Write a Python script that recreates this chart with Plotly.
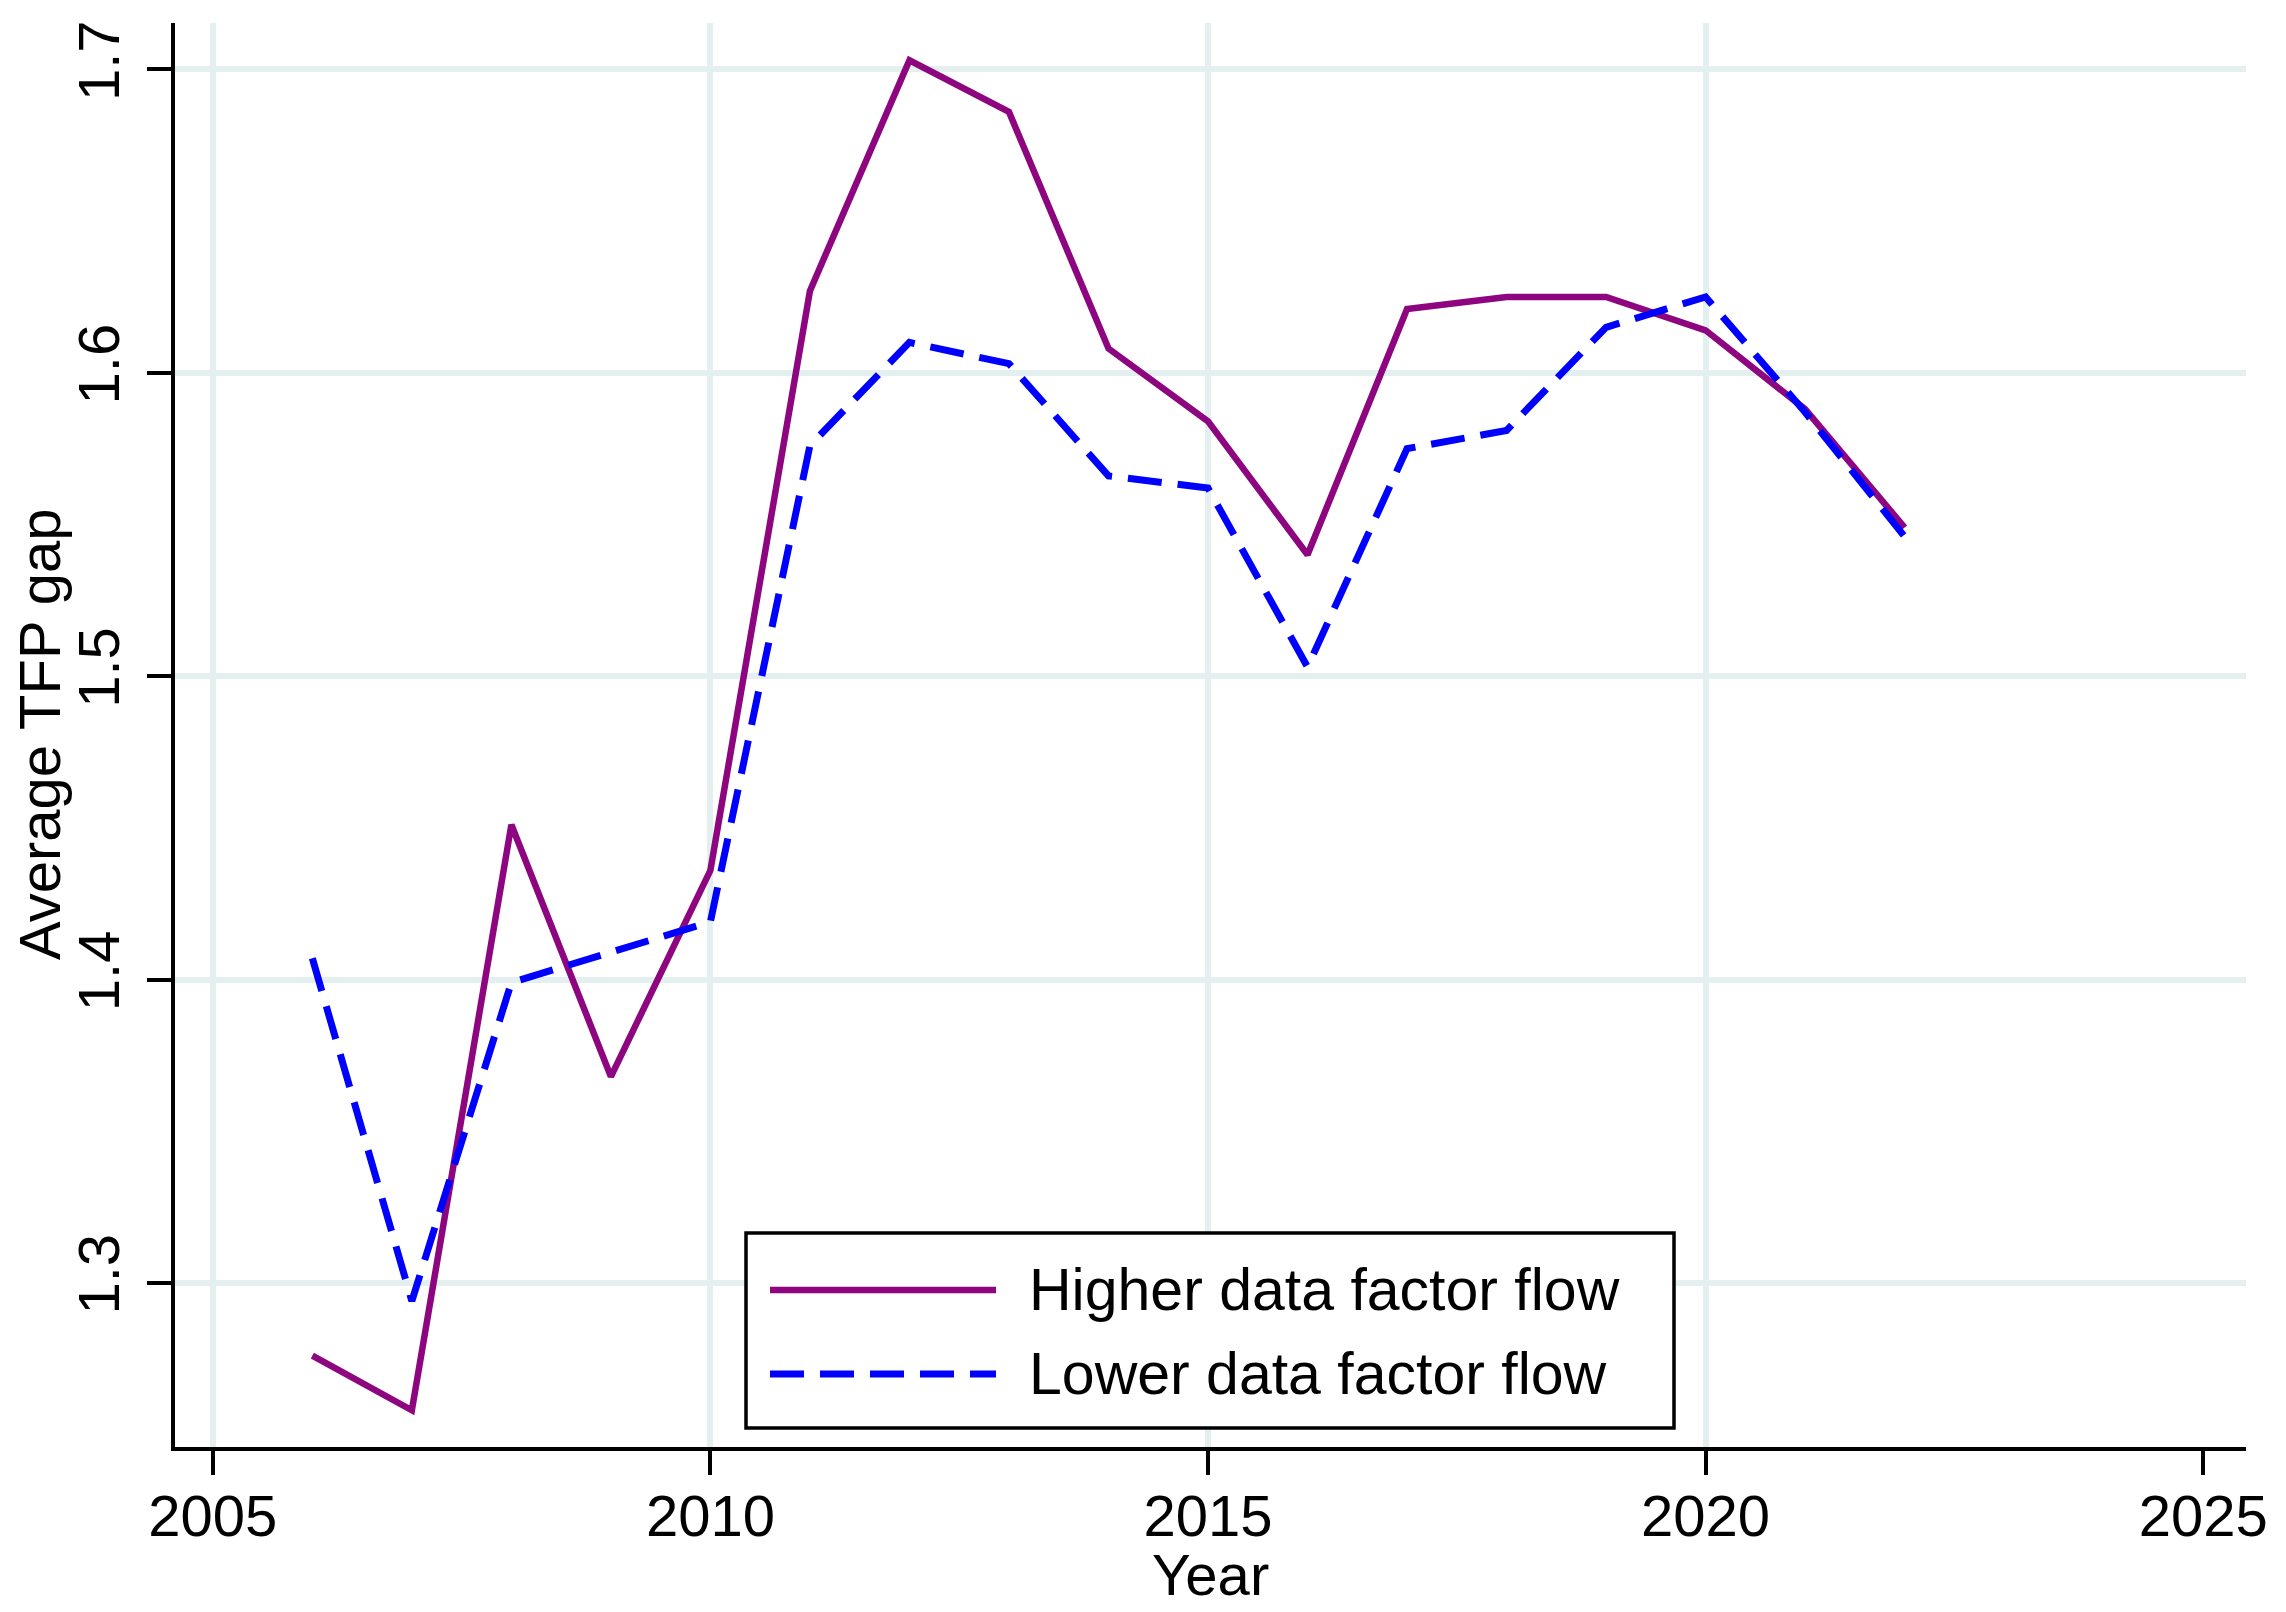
import plotly.graph_objects as go

# ---- data ----
years = list(range(2006, 2023))
higher = [1.276, 1.258, 1.451, 1.368, 1.436, 1.627, 1.703, 1.686, 1.608,
          1.584, 1.540, 1.621, 1.625, 1.625, 1.614, 1.588, 1.549]
lower = [1.407, 1.294, 1.399, 1.409, 1.419, 1.576, 1.610, 1.603, 1.566,
         1.562, 1.503, 1.575, 1.581, 1.615, 1.625, 1.587, 1.546]
series_names = ["Higher data factor flow", "Lower data factor flow"]
x_ticks = [2005, 2010, 2015, 2020, 2025]
x_grid = [2005, 2010, 2015, 2020]
y_ticks = [1.3, 1.4, 1.5, 1.6, 1.7]
y_labels = ["1.3", "1.4", "1.5", "1.6", "1.7"]
x_title = "Year"
y_title = "Average TFP gap"

# ---- layout geometry (absolute page pixels; body has an 8px margin) ----
PAGE_W, PAGE_H = 2286, 1612
OFF = 8
PL, PR, PT, PB = 175, 2246, 23, 1447          # plot area in page pixels
W, H = PAGE_W - OFF, PAGE_H - OFF
L, T = PL - OFF, PT - OFF
R, B = W - (PR - OFF), H - (PB - OFF)
PW, PH = PR - PL, PB - PT
FONT = "Liberation Sans, Arial, Helvetica, sans-serif"
FS = 58
PURPLE = "#8E0580"
BLUE = "#0000FF"
GRID = "#E4EFEF"
DASH = "34px,16px"


def px_x(p):
    return (p - PL) / PW


def px_y(p):
    return (PB - p) / PH


fig = go.Figure()
fig.add_trace(go.Scatter(x=years, y=higher, mode="lines", name=series_names[0],
                         line=dict(color=PURPLE, width=6.5), showlegend=False))
fig.add_trace(go.Scatter(x=years, y=lower, mode="lines", name=series_names[1],
                         line=dict(color=BLUE, width=7, dash=DASH), showlegend=False))
# empty helper trace so the grid-only x axis is drawn
fig.add_trace(go.Scatter(x=[None], y=[None], xaxis="x2", yaxis="y",
                         mode="lines", showlegend=False, hoverinfo="skip"))

xr = [2004.62, 2025.43]
yr = [1.2459, 1.7153]

fig.update_layout(
    width=W, height=H,
    margin=dict(l=L, r=R, t=T, b=B),
    paper_bgcolor="white", plot_bgcolor="white",
    font=dict(family=FONT, size=FS, color="black"),
    xaxis=dict(range=xr, tickvals=x_ticks, ticktext=[str(v) for v in x_ticks],
               showgrid=False, zeroline=False, showline=True, linecolor="black",
               linewidth=3.5, ticks="outside", ticklen=24, tickwidth=3.5,
               tickcolor="black", tickfont=dict(size=FS, family=FONT),
               ticklabelstandoff=-8),
    xaxis2=dict(range=xr, overlaying="x", anchor="y", tickvals=x_grid,
                showgrid=True, gridcolor=GRID, gridwidth=6,
                showticklabels=False, ticks="", showline=False, zeroline=False),
    yaxis=dict(range=yr, tickvals=y_ticks, ticktext=y_labels, tickangle=-90,
               showgrid=True, gridcolor=GRID, gridwidth=6, zeroline=False,
               showline=True, linecolor="black", linewidth=3.5, ticks="outside",
               ticklen=24, tickwidth=3.5, tickcolor="black",
               tickfont=dict(size=FS, family=FONT), ticklabelstandoff=5),
    showlegend=False,
)

annotations = [
    dict(text=x_title, xref="paper", yref="paper", x=0.5, y=px_y(1540),
         xanchor="center", yanchor="top", showarrow=False,
         font=dict(size=FS, family=FONT, color="black")),
    dict(text=y_title, xref="paper", yref="paper", x=px_x(39), y=0.5,
         xanchor="center", yanchor="middle", textangle=-90, showarrow=False,
         font=dict(size=FS, family=FONT, color="black")),
]

# legend (manual, to mimic the long sample lines)
box = dict(x0=px_x(746), x1=px_x(1674), y0=px_y(1428), y1=px_y(1233))
shapes = [
    dict(type="rect", xref="paper", yref="paper", **box,
         line=dict(color="black", width=3.5), fillcolor="white", layer="above"),
]
leg_rows = [(1290, PURPLE, "solid", 6.5), (1374, BLUE, DASH, 7)]
for (py, col, dash, w), name in zip(leg_rows, series_names):
    shapes.append(dict(type="line", xref="paper", yref="paper",
                       x0=px_x(770), x1=px_x(996), y0=px_y(py), y1=px_y(py),
                       line=dict(color=col, width=w, dash=dash), layer="above"))
    annotations.append(dict(text=name, xref="paper", yref="paper",
                            x=px_x(1027), y=px_y(py), xanchor="left",
                            yanchor="middle", showarrow=False,
                            font=dict(size=59, family=FONT, color="black")))

fig.update_layout(shapes=shapes, annotations=annotations)
fig.write_html("out.html")
